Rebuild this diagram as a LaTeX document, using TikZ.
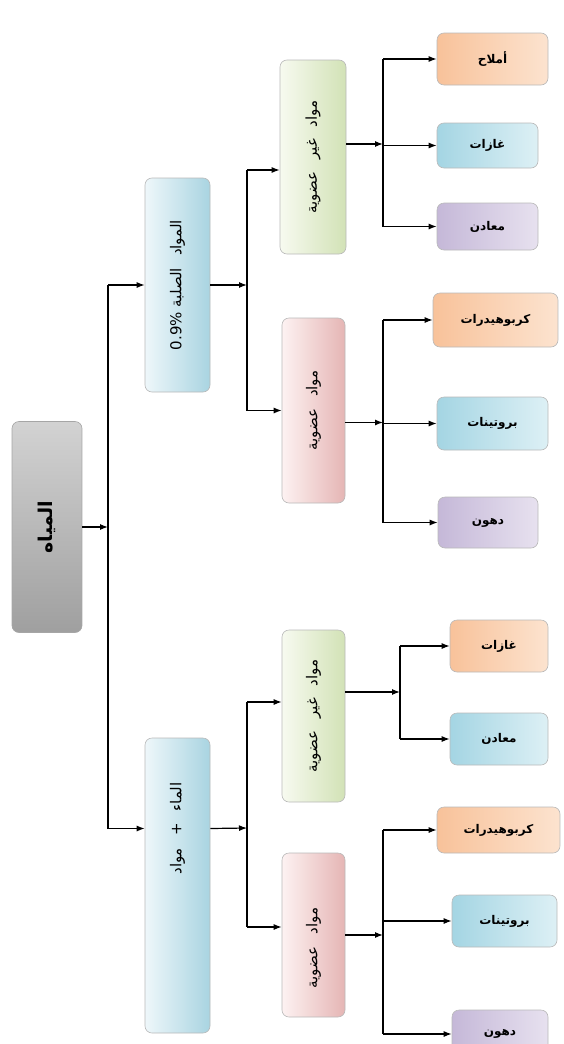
\documentclass[tikz,border=0pt]{standalone}
\usepackage{fontspec}
\usepackage{graphicx}
\usetikzlibrary{arrows.meta}
\TeXXeTstate=1
\newfontfamily\arabicfont[Script=Arabic]{DejaVu Sans}
\newcommand{\ar}[1]{{\arabicfont\beginR #1\endR}}
\newcommand{\vtext}[1]{\rotatebox{90}{#1}}
\newcommand{\gap}{\hspace{0.8em}}

\definecolor{skyL}{HTML}{EEF7FA}
\definecolor{skyR}{HTML}{A9D4E1}
\definecolor{leafL}{HTML}{F7FAF0}
\definecolor{leafR}{HTML}{D2E2B6}
\definecolor{roseL}{HTML}{FDF2F2}
\definecolor{roseR}{HTML}{E5B5B4}
\definecolor{peachL}{HTML}{F8C29A}
\definecolor{peachR}{HTML}{FCE3CF}
\definecolor{aquaL}{HTML}{A4D5E3}
\definecolor{aquaR}{HTML}{DDF0F5}
\definecolor{lilacL}{HTML}{C5B8D8}
\definecolor{lilacR}{HTML}{E7E1EF}

\tikzset{
	box/.style={draw=gray!55, rounded corners=7pt, inner sep=0pt, line width=0.6pt},
	rootbox/.style={box, draw=gray!70, top color=gray!35, bottom color=gray!75},
	bluebox/.style={box, left color=skyL, right color=skyR},
	greenbox/.style={box, left color=leafL, right color=leafR},
	pinkbox/.style={box, left color=roseL, right color=roseR},
	leaf/.style 2 args={box, left color=#1, right color=#2, font=\fontsize{12}{14}\selectfont\bfseries},
	arr/.style={-{Latex[length=8pt,width=6pt]}, line width=1.2pt},
	link/.style={line width=1.2pt},
	mid/.style={font=\fontsize{15}{18}\selectfont}
}

\begin{document}
\begin{tikzpicture}[x=1pt,y=-1pt]
	\useasboundingbox (0,0) rectangle (563,1044);
	
	% root and the two main parts
	\node[rootbox, minimum width=70pt, minimum height=211pt, font=\fontsize{19}{22}\selectfont\bfseries] (root) at (47,527) {\vtext{\ar{المياه}}};
	\node[bluebox, mid, minimum width=65pt, minimum height=214pt] (solid) at (177.5,285) {\vtext{\ar{المواد\gap الصلبة \beginL 0.9\%\endL}}};
	\node[bluebox, mid, minimum width=65pt, minimum height=295pt] (water) at (177.5,885.5) {\vtext{\hspace*{114pt}\ar{الماء\gap +\gap مواد}}};
	
	% second level
	\node[greenbox, mid, minimum width=66pt, minimum height=194pt] (inorgA) at (313,157) {\vtext{\ar{مواد\gap غير\gap عضوية}}};
	\node[pinkbox, mid, minimum width=63pt, minimum height=185pt] (orgA) at (313.5,410.5) {\vtext{\ar{مواد\gap عضوية}}};
	\node[greenbox, mid, minimum width=63pt, minimum height=172pt] (inorgB) at (313.5,716) {\vtext{\ar{مواد\gap غير\gap عضوية}}};
	\node[pinkbox, mid, minimum width=63pt, minimum height=164pt] (orgB) at (313.5,935) {\vtext{\ar{مواد\gap عضوية}\hspace*{26pt}}};
	
	% leaves
	\foreach \n/\x/\y/\w/\h/\ca/\cb/\t in {
		a1/492.5/59/111/52/peachL/peachR/أملاح,
		a2/487.5/145.5/101/45/aquaL/aquaR/غازات,
		a3/487.5/226.5/101/47/lilacL/lilacR/معادن,
		b1/495.5/320/125/54/peachL/peachR/كربوهيدرات,
		b2/492.5/423.5/111/53/aquaL/aquaR/بروتينات,
		b3/488/522.5/100/51/lilacL/lilacR/دهون,
		c1/499/646/98/52/peachL/peachR/غازات,
		c2/499/739/98/52/aquaL/aquaR/معادن,
		d1/498.5/830/123/46/peachL/peachR/كربوهيدرات,
		d2/504.5/921/105/52/aquaL/aquaR/بروتينات,
		d3/500/1034/96/48/lilacL/lilacR/دهون}
	\node[leaf={\ca}{\cb}, minimum width=\w pt, minimum height=\h pt] (\n) at (\x,\y) {\ar{\t}};
	
	% first split
	\coordinate (j0) at (108,527);
	\coordinate (win) at ([yshift=57pt]water.west);
	\coordinate (wout) at ([yshift=57pt]water.east);
	\draw[arr] (root) -- (j0);
	\draw[link] (j0 |- solid) -- (j0 |- win);
	\draw[arr] (j0 |- solid) -- (solid);
	\draw[arr] (j0 |- win) -- (win);
	
	% solids branch
	\coordinate (j1) at (247,285);
	\coordinate (gAin) at ([yshift=-13pt]inorgA.west);
	\draw[arr] (solid) -- (j1);
	\draw[link] (j1 |- gAin) -- (j1 |- orgA);
	\draw[arr] (j1 |- gAin) -- (gAin);
	\draw[arr] (j1 |- orgA) -- (orgA);
	
	% water branch
	\coordinate (j2) at (247,828);
	\coordinate (gBin) at ([yshift=14pt]inorgB.west);
	\coordinate (pBin) at ([yshift=8pt]orgB.west);
	\draw[arr] (wout) -- (j2);
	\draw[link] (j2 |- gBin) -- (j2 |- pBin);
	\draw[arr] (j2 |- gBin) -- (gBin);
	\draw[arr] (j2 |- pBin) -- (pBin);
	
	% leaves of each group
	\coordinate (k) at (383,0);
	\coordinate (kk) at (400,0);
	\coordinate (gAout) at ([yshift=13pt]inorgA.east);
	\coordinate (pAout) at ([yshift=-12pt]orgA.east);
	\coordinate (gBout) at ([yshift=24pt]inorgB.east);
	\draw[arr] (gAout) -- (gAout -| k);
	\draw[link] (k |- a1) -- (k |- a3);
	\foreach \l in {a1,a2,a3} \draw[arr] (k |- \l) -- (\l);
	\draw[arr] (pAout) -- (pAout -| k);
	\draw[link] (k |- b1) -- (k |- b3);
	\foreach \l in {b1,b2,b3} \draw[arr] (k |- \l) -- (\l);
	\draw[arr] (gBout) -- (gBout -| kk);
	\draw[link] (kk |- c1) -- (kk |- c2);
	\foreach \l in {c1,c2} \draw[arr] (kk |- \l) -- (\l);
	\draw[arr] (orgB) -- (orgB -| k);
	\draw[link] (k |- d1) -- (k |- d3);
	\foreach \l in {d1,d2,d3} \draw[arr] (k |- \l) -- (\l);
\end{tikzpicture}
\end{document}
